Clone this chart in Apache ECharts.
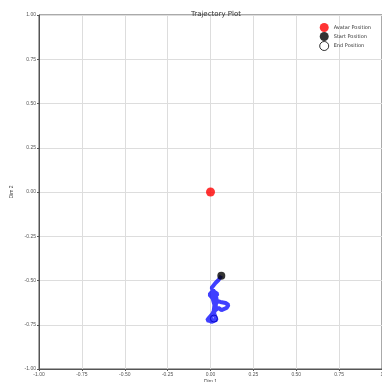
<!DOCTYPE html>
<html><head><meta charset="utf-8">
<script src="https://cdn.jsdelivr.net/npm/echarts@6/dist/echarts.min.js"></script>
<style>html,body{margin:0;padding:0;background:#fff}#c{width:382px;height:382px}</style>
</head><body><div id="c"></div>
<script>
const xTicks = [-1, -0.75, -0.5, -0.25, 0, 0.25, 0.5, 0.75, 1];
const avatar = [[0.0, 0.0]];
const startPos = [[0.063, -0.473]];
const trajX = [0.063,0.047,0.029,0.018,0.006,0.023,0.041,0.029,0.006,0.018,0.058,0.088,0.105,0.094,0.064,0.047,0.029,0.018,0.0,-0.012,-0.023,0.006,0.035,0.029,0.018,0.023,0.012,-0.006,0.012,0.035,0.030,0.010,-0.010,-0.020,0.005,0.020];
const trajY = [-0.473,-0.497,-0.514,-0.525,-0.542,-0.565,-0.576,-0.593,-0.593,-0.610,-0.621,-0.627,-0.638,-0.655,-0.667,-0.655,-0.667,-0.684,-0.706,-0.718,-0.729,-0.734,-0.723,-0.706,-0.678,-0.638,-0.600,-0.580,-0.560,-0.600,-0.650,-0.690,-0.712,-0.725,-0.730,-0.715];
const endPos = [[0.020, -0.715]];
const traj = trajX.map((x, i) => [x, trajY[i]]);
const fs = 5;
const chart = echarts.init(document.getElementById('c'));
chart.setOption({
  animation: false,
  title: { text: 'Trajectory Plot', left: 211, top: 6, textAlign: 'center',
    textStyle: { fontSize: 7, fontWeight: 'normal', color: '#333', fontFamily: 'DejaVu Sans' } },
  grid: { left: 39, right: 0, top: 15, bottom: 13, containLabel: false, outerBoundsMode: 'none',
    show: true, borderColor: '#555', borderWidth: 1 },
  legend: {
    orient: 'vertical', right: 6, top: 18, itemGap: 0, itemWidth: 9, itemHeight: 9,
    textStyle: { fontSize: 5, color: '#333', fontFamily: 'DejaVu Sans' },
    data: [
      { name: 'Avatar Position', icon: 'circle' },
      { name: 'Start Position', icon: 'circle' },
      { name: 'End Position', icon: 'circle', itemStyle: { color: '#fff', borderColor: '#000', borderWidth: 1 } }
    ]
  },
  xAxis: {
    type: 'value', min: -1, max: 1, interval: 0.25, name: 'Dim 1', nameLocation: 'middle', nameGap: 10,
    nameMoveOverlap: false,
    nameTextStyle: { fontSize: 5, color: '#444', verticalAlign: 'top' },
    axisLine: { onZero: false, lineStyle: { color: '#555' } }, axisTick: { length: 2, lineStyle: { color: '#555' } },
    axisLabel: { fontSize: fs, color: '#555', margin: 3, formatter: v => v === 1 ? '1' : v.toFixed(2) },
    splitLine: { lineStyle: { color: '#ddd' } }
  },
  yAxis: {
    type: 'value', min: -1, max: 1, interval: 0.25, name: 'Dim 2', nameLocation: 'middle', nameGap: 25,
    nameMoveOverlap: false,
    nameTextStyle: { fontSize: 5, color: '#444' },
    axisLine: { onZero: false, lineStyle: { color: '#555' } }, axisTick: { length: 2, lineStyle: { color: '#555' } },
    axisLabel: { fontSize: fs, color: '#555', margin: 3, formatter: v => v.toFixed(2) },
    splitLine: { lineStyle: { color: '#ddd' } }
  },
  series: [
    { name: 'End Position', type: 'scatter', data: endPos, symbolSize: 7, z: 1,
      itemStyle: { color: '#fff', borderColor: '#000', borderWidth: 1 } },
    { name: 'Trajectory', type: 'line', data: traj, showSymbol: false, z: 2,
      lineStyle: { color: '#0000ff', width: 4, opacity: 0.75 } },
    { name: 'Avatar Position', type: 'scatter', data: avatar, symbolSize: 9, z: 3, itemStyle: { color: '#ff0000' } },
    { name: 'Start Position', type: 'scatter', data: startPos, symbolSize: 8, z: 3, itemStyle: { color: '#000' } }
  ]
});
</script></body></html>
